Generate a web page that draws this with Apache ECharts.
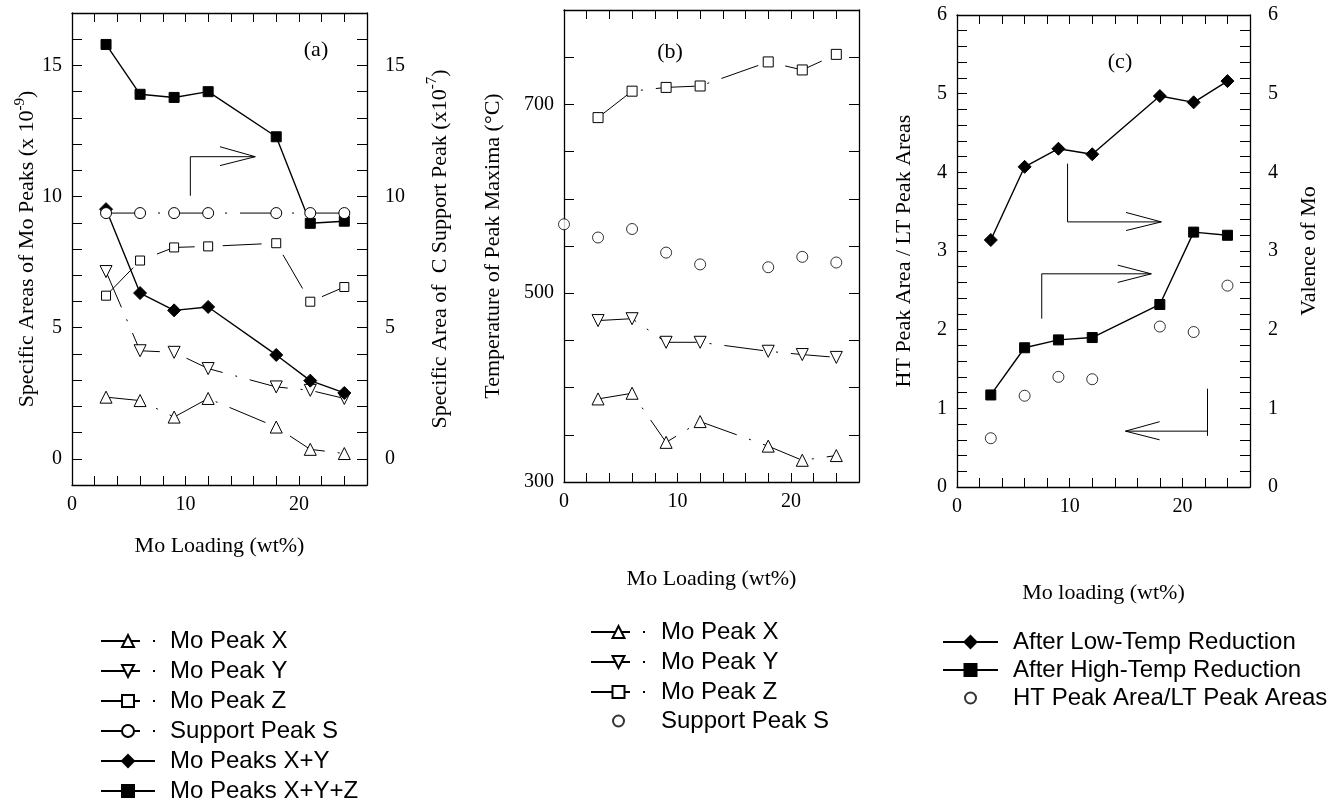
<!DOCTYPE html>
<html><head><meta charset="utf-8">
<script src="https://cdn.jsdelivr.net/npm/echarts@6/dist/echarts.min.js"></script>
<style>html,body{margin:0;padding:0;background:#fff}#c{width:1334px;height:801px}</style>
</head><body><div id="c"></div>
<script>
// ---------- data ----------
const loading = [3, 6, 9, 12, 18, 21, 24];
const loadingWithZero = [0, 3, 6, 9, 12, 18, 21, 24];

// panel (a) specific areas
const aPeakX   = [2.35, 2.22, 1.59, 2.30, 1.21, 0.36, 0.20];
const aPeakY   = [7.14, 4.12, 4.06, 3.44, 2.74, 2.61, 2.30];
const aPeakZ   = [6.22, 7.56, 8.06, 8.10, 8.22, 5.99, 6.55];
const aSupportS = [9.37, 9.37, 9.37, 9.37, 9.37, 9.37, 9.37];
const aPeaksXY  = [9.52, 6.32, 5.66, 5.79, 3.96, 2.98, 2.51];
const aPeaksXYZ = [15.80, 13.90, 13.78, 14.00, 12.28, 8.98, 9.06];

// panel (b) temperatures of peak maxima
const bPeakX = [388, 394, 342, 364, 338, 323, 328];
const bPeakY = [471, 473, 448, 448, 438.5, 435, 432];
const bPeakZ = [686, 714, 718, 719.5, 745, 736.5, 753];
const bSupportS = [573, 559, 568, 543, 530.5, 527.5, 538.5, 532.5];

// panel (c)
const cLowTemp  = [3.14, 4.07, 4.30, 4.23, 4.97, 4.89, 5.16];
const cHighTemp = [1.17, 1.77, 1.87, 1.90, 2.32, 3.24, 3.20];
const cRatio    = [0.62, 1.16, 1.40, 1.37, 2.04, 1.97, 2.56];

// annotation arrows (data coordinates)
const arrowA      = [[10.43, 10.03], [10.43, 11.52], [16.15, 11.52]];
const arrowAHead  = [[13.04, 11.90], [16.15, 11.52], [13.04, 11.18]];
const arrowC1     = [[9.81, 4.11], [9.81, 3.37], [18.13, 3.37]];
const arrowC1Head = [[15.0, 3.49], [18.13, 3.37], [15.0, 3.26]];
const arrowC2     = [[7.52, 2.14], [7.52, 2.71], [17.24, 2.71]];
const arrowC2Head = [[14.26, 2.82], [17.24, 2.71], [14.26, 2.60]];
const arrowC3     = [[22.23, 1.25], [22.23, 0.65]];
const arrowC3b    = [[22.23, 0.71], [14.95, 0.71]];
const arrowC3Head = [[17.98, 0.83], [14.95, 0.71], [17.98, 0.60]];

const legendA = ['Mo Peak X|a', 'Mo Peak Y|a', 'Mo Peak Z|a', 'Support Peak S|a', 'Mo Peaks X+Y|a', 'Mo Peaks X+Y+Z|a'];
const legendB = ['Mo Peak X|b', 'Mo Peak Y|b', 'Mo Peak Z|b'];
const legendB2 = ['Support Peak S|b'];
const legendC = ['After Low-Temp Reduction|c', 'After High-Temp Reduction|c'];
const legendC2 = ['HT Peak Area/LT Peak Areas|c'];

// ---------- helpers ----------
const serif = '"Liberation Serif", "Times New Roman", serif';
const sans = '"Liberation Sans", Arial, sans-serif';
const pairs = (xs, ys) => xs.map((x, i) => [x, ys[i]]);
const DASH = [39, 13, 2, 13];

const lineAx = {show: true, onZero: false, lineStyle: {color: '#000', width: 1.3}};
function xAx(g, pos, name, gap) {
  return {
    type: 'value', gridIndex: g, position: pos, min: 0, max: 26, interval: 2,
    axisLine: lineAx,
    axisTick: {show: true, inside: true, length: 9, lineStyle: {color: '#000', width: 1}},
    axisLabel: {show: pos === 'bottom', margin: 10, fontFamily: serif, fontSize: 20, color: '#000',
      formatter: v => (v % 10 === 0 ? String(v) : '')},
    splitLine: {show: false},
    name: name || '', nameLocation: 'middle', nameGap: gap || 0,
    nameTextStyle: {fontFamily: serif, fontSize: 22, color: '#000'}
  };
}
function yAx(g, pos, min, max, interval, fmt, showLabel, margin, name, gap) {
  return {
    type: 'value', gridIndex: g, position: pos, min, max, interval,
    axisLine: lineAx,
    axisTick: {show: true, inside: true, length: 10, lineStyle: {color: '#000', width: 1}},
    axisLabel: {show: showLabel, margin, fontFamily: serif, fontSize: 20, color: '#000', formatter: fmt},
    splitLine: {show: false},
    name: name || '', nameLocation: 'middle', nameGap: gap || 0,
    nameTextStyle: {fontFamily: serif, fontSize: 22, color: '#000',
      rich: {t: {fontFamily: serif, fontSize: 22, lineHeight: 30, color: '#000'},
             s: {fontFamily: serif, fontSize: 15, lineHeight: 15, verticalAlign: 'top', color: '#000'}}}
  };
}
const fmtA = v => (v % 5 === 0 ? String(v) : '');
const fmtB = v => ((v - 300) % 200 === 0 ? String(v) : '');
const fmtC = v => (Math.abs(v - Math.round(v)) < 1e-6 ? String(Math.round(v)) : '');

function ser(name, xi, yi, xs, ys, symbol, size, filled, opts) {
  opts = opts || {};
  return {
    name, type: opts.scatter ? 'scatter' : 'line', xAxisIndex: xi, yAxisIndex: yi,
    data: pairs(xs, ys), symbol, symbolSize: size, symbolRotate: opts.rotate || 0,
    lineStyle: {color: '#000', width: opts.dashed ? 1 : 1.4, type: opts.dashed ? DASH : 'solid'},
    itemStyle: {color: filled ? '#000' : '#fff', borderColor: '#000', borderWidth: 1},
    emphasis: {disabled: true}, animation: false, z: opts.z || 3
  };
}
function arrow(xi, yi, pts) {
  return {type: 'line', xAxisIndex: xi, yAxisIndex: yi, data: pts, symbol: 'none',
    lineStyle: {color: '#000', width: 1}, silent: true, animation: false, z: 2};
}
function legend(left, top, itemWidth, itemHeight, lh, data) {
  return {left, top, height: 220, orient: 'vertical', itemWidth, itemHeight, itemGap: 0, padding: 0,
    selectedMode: false, data,
    formatter: n => n.split('|')[0],
    textStyle: {fontFamily: sans, fontSize: 24, color: '#000', lineHeight: lh, padding: [0, 0, 0, 10]}};
}

const option = {
  animation: false,
  backgroundColor: '#fff',
  textStyle: {fontFamily: serif},
  grid: [
    {left: 72, top: 13, width: 295, height: 472, outerBoundsMode: 'none'},
    {left: 564, top: 10, width: 295, height: 472, outerBoundsMode: 'none'},
    {left: 957, top: 15, width: 293, height: 472, outerBoundsMode: 'none'}
  ],
  xAxis: [
    xAx(0, 'bottom', 'Mo Loading (wt%)', 50), xAx(0, 'top'),
    xAx(1, 'bottom', 'Mo Loading (wt%)', 86), xAx(1, 'top'),
    xAx(2, 'bottom', 'Mo loading (wt%)', 95), xAx(2, 'top')
  ],
  yAxis: [
    yAx(0, 'left', -1, 17, 1, fmtA, true, 10, '{t|Specific Areas of Mo Peaks (x 10}{s|-9}{t|)}', 28),
    yAx(0, 'right', -1, 17, 1, fmtA, true, 18, '{t|Specific Area of  C Support Peak (x10}{s|-7}{t|)}', 58),
    yAx(1, 'left', 300, 800, 50, fmtB, true, 10, 'Temperature of Peak Maxima (°C)', 60),
    yAx(1, 'right', 300, 800, 50, fmtB, false, 10),
    yAx(2, 'left', 0, 6, 0.2, fmtC, true, 10, 'HT Peak Area / LT Peak Areas', 42),
    yAx(2, 'right', 0, 6, 0.2, fmtC, true, 18, 'Valence of Mo', 48)
  ],
  legend: [
    legend(100, 626, 54, 15, 30, legendA),
    legend(590, 617, 55, 15, 30, legendB),
    legend(612, 706, 55, 11, 30, legendB2),
    legend(942, 628, 55, 15, 28, legendC),
    legend(964, 684, 55, 11, 28, legendC2)
  ],
  graphic: [
    {type: 'text', x: 316, y: 50, style: {text: '(a)', fontFamily: serif, fontSize: 22, fill: '#000', align: 'center', verticalAlign: 'middle'}},
    {type: 'text', x: 670, y: 52, style: {text: '(b)', fontFamily: serif, fontSize: 22, fill: '#000', align: 'center', verticalAlign: 'middle'}},
    {type: 'text', x: 1120, y: 62, style: {text: '(c)', fontFamily: serif, fontSize: 22, fill: '#000', align: 'center', verticalAlign: 'middle'}}
  ],
  series: [
    // panel (a)
    arrow(0, 0, arrowA), arrow(0, 0, arrowAHead),
    ser('Mo Peak X|a', 0, 0, loading, aPeakX, 'triangle', 12, false, {dashed: true}),
    ser('Mo Peak Y|a', 0, 0, loading, aPeakY, 'triangle', 12, false, {dashed: true, rotate: 180}),
    ser('Mo Peak Z|a', 0, 0, loading, aPeakZ, 'rect', 9, false, {dashed: true}),
    ser('Mo Peaks X+Y|a', 0, 0, loading, aPeaksXY, 'diamond', 13, true, {}),
    ser('Mo Peaks X+Y+Z|a', 0, 0, loading, aPeaksXYZ, 'rect', 10, true, {}),
    ser('Support Peak S|a', 0, 1, loading, aSupportS, 'circle', 11, false, {dashed: true, z: 4}),
    // panel (b)
    ser('Mo Peak X|b', 2, 2, loading, bPeakX, 'triangle', 12, false, {dashed: true}),
    ser('Mo Peak Y|b', 2, 2, loading, bPeakY, 'triangle', 12, false, {dashed: true, rotate: 180}),
    ser('Mo Peak Z|b', 2, 2, loading, bPeakZ, 'rect', 10, false, {dashed: true}),
    ser('Support Peak S|b', 2, 2, loadingWithZero, bSupportS, 'circle', 11, false, {scatter: true}),
    // panel (c)
    arrow(4, 4, arrowC1), arrow(4, 4, arrowC1Head),
    arrow(4, 4, arrowC2), arrow(4, 4, arrowC2Head),
    arrow(4, 4, arrowC3), arrow(4, 4, arrowC3b), arrow(4, 4, arrowC3Head),
    ser('After Low-Temp Reduction|c', 4, 5, loading, cLowTemp, 'diamond', 13, true, {}),
    ser('After High-Temp Reduction|c', 4, 5, loading, cHighTemp, 'rect', 10, true, {}),
    ser('HT Peak Area/LT Peak Areas|c', 4, 4, loading, cRatio, 'circle', 11, false, {scatter: true})
  ]
};

const chart = echarts.init(document.getElementById('c'), null, {renderer: 'canvas'});
chart.setOption(option);
</script>
</body></html>
